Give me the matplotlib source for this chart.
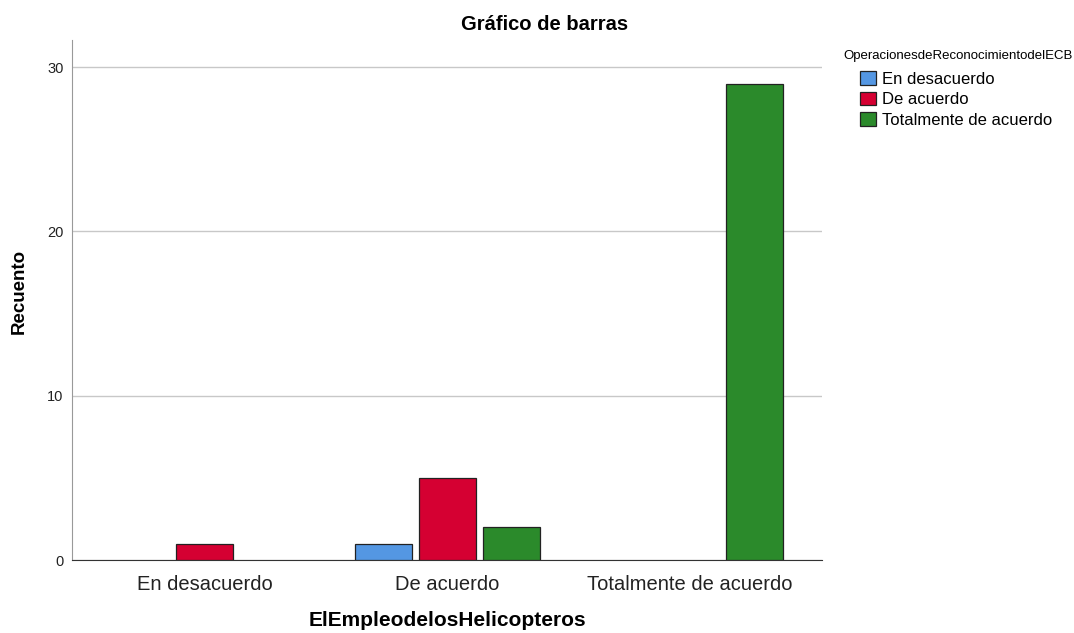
import numpy as np
import matplotlib.pyplot as plt

plt.rcParams['font.family'] = ['Liberation Sans', 'DejaVu Sans']

categories = ["En desacuerdo", "De acuerdo", "Totalmente de acuerdo"]
series_names = ["En desacuerdo", "De acuerdo", "Totalmente de acuerdo"]
en_desacuerdo = [0, 1, 0]
de_acuerdo = [1, 5, 0]
totalmente = [0, 2, 29]
colors = ["#5497E3", "#D50032", "#2B8A2B"]

fig = plt.figure(figsize=(10.74, 6.33), dpi=100)
ax = fig.add_axes([72 / 1074, 1 - 560 / 633, 750 / 1074, 520 / 633])

x = np.arange(len(categories))
width = 0.235
offset = 0.264
for i, (vals, name) in enumerate(zip([en_desacuerdo, de_acuerdo, totalmente], series_names)):
    xs = x + (i - 1) * offset
    mask = np.array(vals) > 0
    ax.bar(xs[mask], np.array(vals)[mask], width=width, color=colors[i],
           edgecolor="#222222", linewidth=0.9, label=name, zorder=3)

ax.set_xlim(-0.548, 2.544)
ax.set_ylim(0, 31.65)
ax.set_yticks([0, 10, 20, 30])
ax.grid(axis="y", color="#C8C8C8", linewidth=1, zorder=0)
ax.set_xticks(x)
ax.set_xticklabels(categories, fontsize=14.5, color="#222222")
ax.tick_params(axis="x", length=0, pad=11)
ax.tick_params(axis="y", length=0, labelsize=10.5, colors="#222222", pad=6)
for s in ["top", "right"]:
    ax.spines[s].set_visible(False)
ax.spines["left"].set_color("#999999")
ax.spines["bottom"].set_color("#333333")

fig.text(447 / 1074, 1 - 621 / 633, "ElEmpleodelosHelicopteros", ha="center", va="center",
         fontsize=15, fontweight="bold")
fig.text(19 / 1074, 1 - 291 / 633, "Recuento", rotation=90, ha="center", va="center",
         fontsize=13.5, fontweight="bold")
fig.text(545 / 1074, 1 - 25 / 633, "Gráfico de barras", ha="center", va="center",
         fontsize=14.5, fontweight="bold")

fig.text(843 / 1074, 1 - 56 / 633, "OperacionesdeReconocimientodelECB", fontsize=9.5,
         ha="left", va="center")
leg = ax.legend(loc="upper left", bbox_to_anchor=(860 / 1074, 1 - 71 / 633),
                bbox_transform=fig.transFigure, frameon=False, fontsize=12,
                handlelength=0.95, handleheight=0.9, handletextpad=0.35,
                labelspacing=0.3, borderaxespad=0, borderpad=0)

fig.savefig("out.png", dpi=100)
